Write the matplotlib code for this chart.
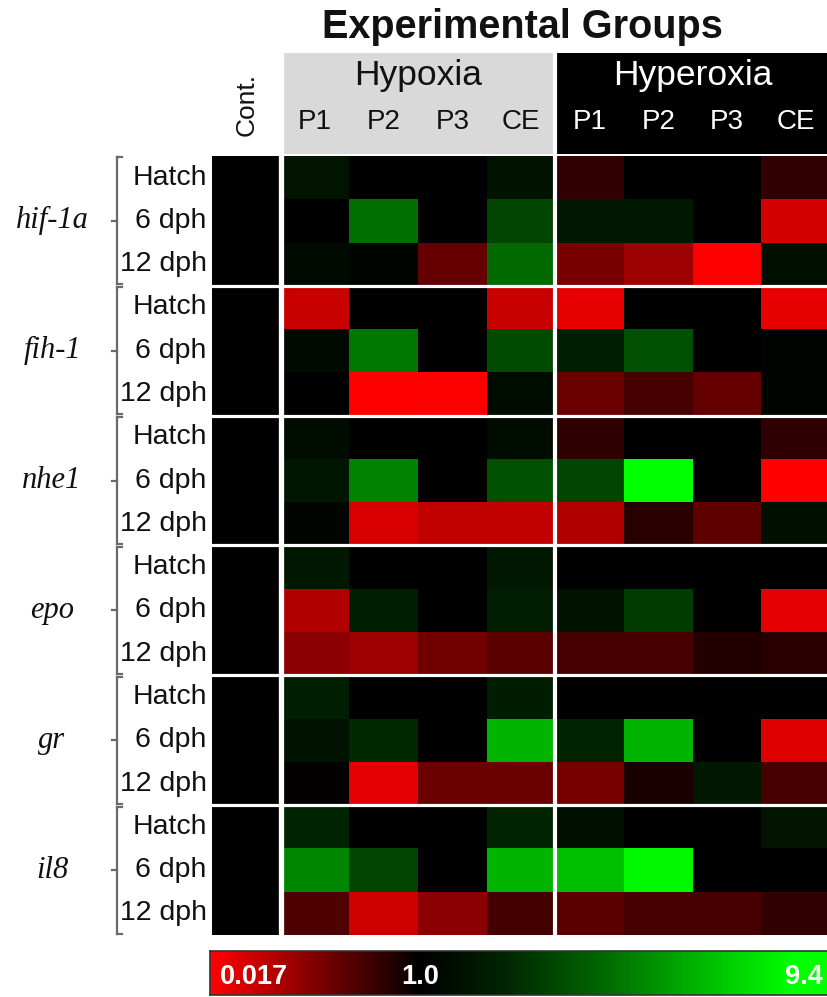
import numpy as np
import matplotlib
matplotlib.use("Agg")
import matplotlib.pyplot as plt
from matplotlib.colors import LinearSegmentedColormap, FuncNorm
from matplotlib.patches import Rectangle
from matplotlib.lines import Line2D

# ---------------------------------------------------------------- data
genes = ["hif-1a", "fih-1", "nhe1", "epo", "gr", "il8"]
stages = ["Hatch", "6 dph", "12 dph"]
groups = ["Hypoxia", "Hyperoxia"]
treatments = ["P1", "P2", "P3", "CE"]
control_label = "Cont."
control_value = 1.0

# fold change vs. control, per stage (rows) and treatment
# columns: Hypoxia P1, P2, P3, CE, Hyperoxia P1, P2, P3, CE
hif1a = [
    [1.28, 1.00, 1.00, 1.24, 0.45, 1.00, 1.00, 0.45],
    [1.00, 2.79, 1.00, 2.05, 1.35, 1.35, 1.00, 0.035],
    [1.13, 1.06, 0.20, 2.68, 0.15, 0.084, 0.017, 1.20],
]
fih1 = [
    [0.041, 1.00, 1.00, 0.041, 0.025, 1.00, 1.00, 0.025],
    [1.13, 2.98, 1.00, 2.13, 1.44, 2.21, 1.00, 1.04],
    [1.00, 0.017, 0.018, 1.16, 0.19, 0.33, 0.20, 1.06],
]
nhe1 = [
    [1.16, 1.00, 1.00, 1.16, 0.49, 1.00, 1.00, 0.49],
    [1.31, 3.19, 1.00, 2.21, 2.05, 9.4, 1.00, 0.017],
    [1.06, 0.032, 0.048, 0.048, 0.061, 0.53, 0.22, 1.20],
]
epo = [
    [1.35, 1.00, 1.00, 1.35, 1.00, 1.00, 1.00, 1.00],
    [0.061, 1.44, 1.00, 1.44, 1.24, 1.90, 1.00, 0.027],
    [0.11, 0.084, 0.17, 0.24, 0.33, 0.33, 0.57, 0.53],
]
gr = [
    [1.44, 1.00, 1.00, 1.41, 1.00, 1.00, 1.00, 1.00],
    [1.24, 1.63, 1.00, 4.47, 1.53, 4.47, 1.00, 0.030],
    [0.92, 0.027, 0.19, 0.19, 0.15, 0.67, 1.35, 0.33],
]
il8 = [
    [1.53, 1.00, 1.00, 1.53, 1.20, 1.00, 1.00, 1.28],
    [3.30, 2.05, 1.00, 4.47, 4.79, 7.2, 1.00, 1.00],
    [0.28, 0.038, 0.11, 0.35, 0.24, 0.33, 0.33, 0.45],
]
gene_rows = [hif1a, fih1, nhe1, epo, gr, il8]

fold_min, fold_mid, fold_max = 0.017, 1.0, 9.4
scale_labels = ["0.017", "1.0", "9.4"]

# ---------------------------------------------------------------- colour scale
P_MID = 0.336  # position of 1.0 (black) along the scale

def forward(v):
    v = np.clip(np.asarray(v, dtype=float), fold_min, fold_max)
    lv = np.log(v)
    return np.where(lv <= 0,
                    P_MID * (1 - lv / np.log(fold_min)),
                    P_MID + (1 - P_MID) * lv / np.log(fold_max))

def inverse(p):
    p = np.asarray(p, dtype=float)
    return np.where(p <= P_MID,
                    np.exp(np.log(fold_min) * (1 - p / P_MID)),
                    np.exp((p - P_MID) / (1 - P_MID) * np.log(fold_max)))

norm = FuncNorm((forward, inverse), vmin=fold_min, vmax=fold_max)
cmap = LinearSegmentedColormap.from_list("red_black_green", [
    (0.0, (1, 0, 0)),
    (P_MID, (0, 0, 0)),
    (0.48, (0, 40 / 255, 0)),
    (0.64, (0, 110 / 255, 0)),
    (0.80, (0, 190 / 255, 0)),
    (0.933, (0, 1, 0)),
    (1.0, (0, 1, 0)),
])

matrix = np.array([[control_value] + row for g in gene_rows for row in g])
n_rows, n_cols = matrix.shape

# ---------------------------------------------------------------- figure
W, H = 827, 997
fig = plt.figure(figsize=(W / 100, H / 100), dpi=100)
plt.rcParams["font.family"] = ["Liberation Sans", "DejaVu Sans"]
TXT = "#111111"

def box(left, top, right, bottom):
    return [left / W, 1 - bottom / H, (right - left) / W, (bottom - top) / H]

# heat map
ax = fig.add_axes(box(212, 156, 830, 935))
ax.pcolormesh(np.arange(n_cols + 1), np.arange(n_rows + 1), matrix,
              cmap=cmap, norm=norm, edgecolors="none", antialiased=False)
ax.set_xlim(0, n_cols)
ax.set_ylim(n_rows, 0)
ax.axis("off")
ax.axvline(1, color="white", lw=3.8)
ax.axvline(5, color="white", lw=3.0)
for k in range(3, n_rows, 3):
    ax.axhline(k, color="white", lw=2.3)

# stage labels
for r in range(n_rows):
    ax.text(-0.075, r + 0.5, stages[r % 3], ha="right", va="center",
            fontsize=20.5, color=TXT)

# header boxes
hx = fig.add_axes(box(212, 53, 830, 154.5))
hx.set_xlim(0, n_cols)
hx.set_ylim(0, 1)
hx.axis("off")
hx.add_patch(Rectangle((1, 0), 4, 1, color="#d9d9d9", lw=0))
hx.add_patch(Rectangle((5, 0), 4, 1, color="black", lw=0))
hx.axvline(1, color="white", lw=3.8)
hx.axvline(5, color="white", lw=3.0)
hx.text(3, 0.78, groups[0], ha="center", va="center", fontsize=25.5, color=TXT)
hx.text(7, 0.78, groups[1], ha="center", va="center", fontsize=25.5, color="white")
for i, t in enumerate(treatments):
    hx.text(1.5 + i, 0.32, t, ha="center", va="center", fontsize=20, color=TXT)
    hx.text(5.5 + i, 0.32, t, ha="center", va="center", fontsize=20, color="white")
hx.text(0.5, 0.49, control_label, ha="center", va="center", rotation=90,
        fontsize=19, color=TXT)

fig.text(522 / W, 1 - 27 / H, "Experimental Groups", ha="center", va="center",
         fontsize=28.5, fontweight="bold", color=TXT)

# gene labels and brackets
row_h = (935 - 156) / n_rows
bx = 117
for g, name in enumerate(genes):
    top = 156 + 3 * g * row_h
    bot = top + 3 * row_h
    mid = (top + bot) / 2
    fig.text(52 / W, 1 - mid / H, name, ha="center", va="center",
             fontsize=22, style="italic", family=["Liberation Serif", "DejaVu Serif"],
             color=TXT)
    seg = dict(color="#6a6a6a", lw=1.6, transform=fig.transFigure)
    fig.add_artist(Line2D([bx / W, bx / W], [1 - (top + 1.5) / H, 1 - (bot - 1.5) / H], **seg))
    fig.add_artist(Line2D([bx / W, (bx + 5) / W], [1 - (top + 1.5) / H] * 2, **seg))
    fig.add_artist(Line2D([bx / W, (bx + 5) / W], [1 - (bot - 1.5) / H] * 2, **seg))
    fig.add_artist(Line2D([(bx - 5) / W, bx / W], [1 - mid / H] * 2, **seg))

# colour bar
cax = fig.add_axes(box(210, 951, 835, 995))
cax.imshow(np.linspace(0, 1, 600)[None, :], aspect="auto", cmap=cmap,
           extent=[0, 1, 0, 1], interpolation="bilinear")
cax.set_xlim(0, 1)
cax.set_ylim(0, 1)
cax.set_xticks([])
cax.set_yticks([])
for s in cax.spines.values():
    s.set_color("#333333")
    s.set_linewidth(1.2)
pos = norm(np.array([fold_min, fold_mid, fold_max]))
cax.text(pos[0] + 0.016, 0.42, scale_labels[0], ha="left", va="center",
         fontsize=19.5, fontweight="bold", color="white")
cax.text(pos[1], 0.42, scale_labels[1], ha="center", va="center",
         fontsize=19.5, fontweight="bold", color="white")
cax.text(pos[2] - 0.02, 0.42, scale_labels[2], ha="right", va="center",
         fontsize=19.5, fontweight="bold", color="white")

fig.savefig("out.png", dpi=100)
